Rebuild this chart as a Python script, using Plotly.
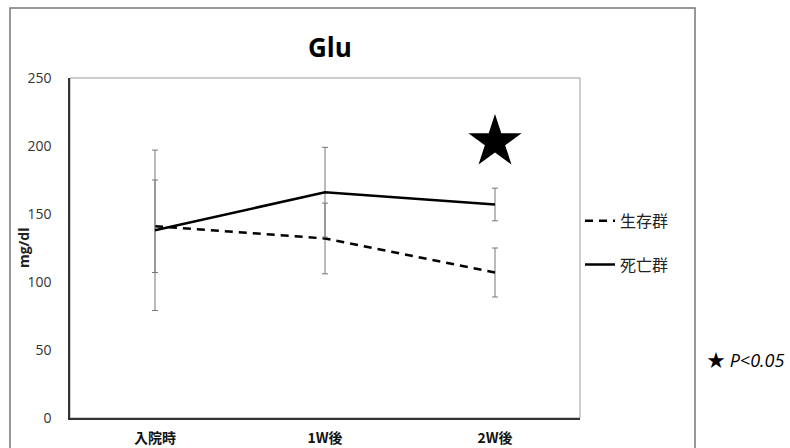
import plotly.graph_objects as go

categories = ["入院時", "1W後", "2W後"]
survival_mean = [141, 132, 107]
survival_err = [34, 26, 18]
death_mean = [138, 166, 157]
death_err = [59, 33, 12]
sig_x = ["2W後"]
sig_y = [203]
y_ticks = [0, 50, 100, 150, 200, 250]

FONT = "Open Sans, Noto Sans CJK JP, sans-serif"
JP = "Noto Sans CJK JP, sans-serif"

fig = go.Figure()
fig.add_trace(go.Scatter(
    x=categories, y=survival_mean, mode="lines", name="生存群",
    line=dict(color="black", width=2.5, dash="8px,6px"),
    error_y=dict(type="data", array=survival_err, visible=True,
                 color="#777777", thickness=1, width=3),
    legendgroup="a",
))
fig.add_trace(go.Scatter(
    x=categories, y=death_mean, mode="lines", name="死亡群",
    line=dict(color="black", width=2.5),
    error_y=dict(type="data", array=death_err, visible=True,
                 color="#777777", thickness=1, width=3),
    legendgroup="b",
))
fig.add_trace(go.Scatter(
    x=sig_x, y=sig_y, mode="markers", showlegend=False,
    marker=dict(symbol="star", size=40, color="black"),
))

fig.update_layout(
    width=790, height=448,
    margin=dict(l=70, r=210, t=78, b=30),
    paper_bgcolor="white", plot_bgcolor="white",
    font=dict(family=FONT, color="black"),
    showlegend=True,
    legend=dict(x=1.0, y=0.63, xanchor="left", yanchor="top",
                font=dict(family=JP, size=16, color="#222"),
                tracegroupgap=20, bgcolor="rgba(0,0,0,0)"),
    xaxis=dict(range=[-0.5, 2.5], showline=True, linecolor="#333",
               linewidth=1.5, showgrid=False, ticks="", automargin=False,
               tickvals=categories,
               ticktext=[f"<b>{c}</b>" for c in categories],
               tickfont=dict(family=JP, size=14, color="#111"),
               ticklabelstandoff=6, zeroline=False),
    yaxis=dict(range=[0, 250], tickvals=y_ticks, showline=True, automargin=False,
               linecolor="#333", linewidth=1.5, showgrid=False, ticks="",
               tickfont=dict(family=FONT, size=14, color="#333"),
               ticklabelstandoff=14, zeroline=False),
    shapes=[
        dict(type="rect", xref="paper", yref="paper", x0=0, x1=1, y0=0, y1=1,
             line=dict(color="#999", width=1), layer="below"),
        dict(type="rect", xref="paper", yref="paper", x0=-0.1176, x1=1.2255,
             y0=-0.3, y1=1.2059, line=dict(color="#777", width=1.5)),
    ],
    annotations=[
        dict(text="<b>Glu</b>", xref="paper", yref="paper", x=0.51, y=1.09,
             xanchor="center", yanchor="middle", showarrow=False,
             font=dict(family=FONT, size=26, color="black")),
        dict(text="<b>mg/dl</b>", xref="paper", yref="paper", x=-0.092, y=0.5,
             textangle=-90, xanchor="center", yanchor="middle", showarrow=False,
             font=dict(family=FONT, size=14, color="#222")),
        dict(text="★ <i>P&lt;0.05</i>", xref="paper", yref="paper", x=1.245,
             y=0.171, xanchor="left", yanchor="middle", showarrow=False,
             font=dict(family=FONT, size=18, color="black")),
    ],
)
fig.write_html("out.html")
